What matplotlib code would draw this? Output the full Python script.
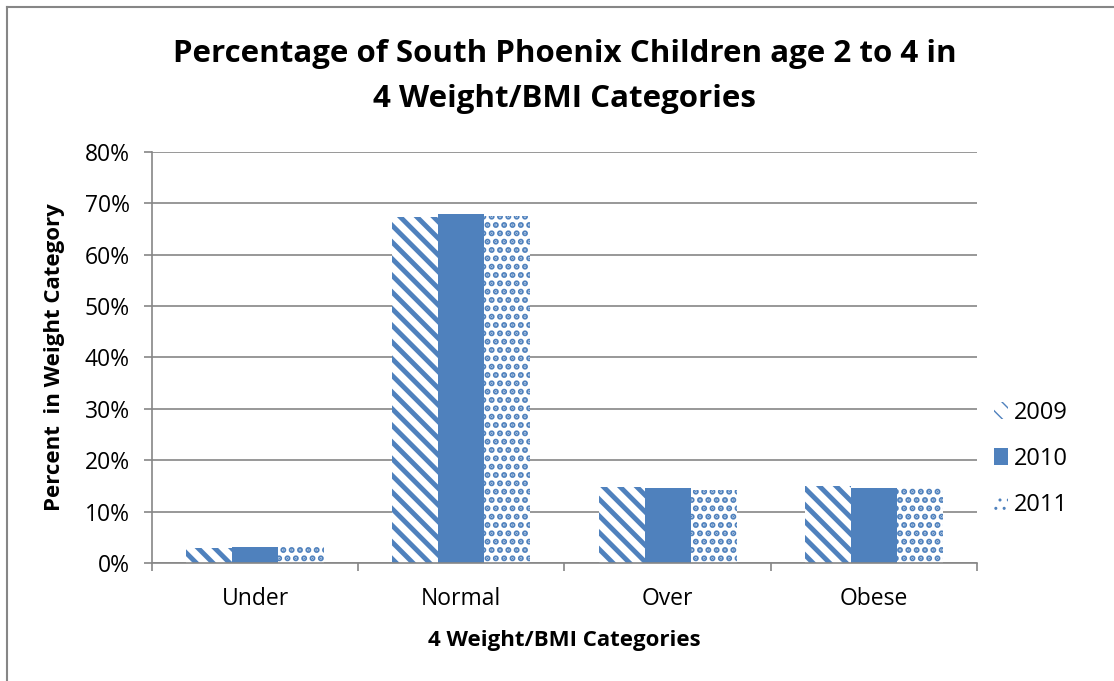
import numpy as np
import matplotlib as mpl
import matplotlib.pyplot as plt
from matplotlib.lines import Line2D

plt.rcParams['font.family'] = ['Open Sans', 'DejaVu Sans']

categorias = ["Under", "Normal", "Over", "Obese"]
anios = ["2009", "2010", "2011"]
v2009 = [3.0, 67.3, 14.8, 15.0]
v2010 = [3.1, 68.0, 14.6, 14.6]
v2011 = [3.2, 67.6, 14.3, 14.6]

azul = "#4F81BD"
gris = "#868686"

fig = plt.figure(figsize=(11.14, 6.81), dpi=100)
ax = fig.add_axes([0.1364, 0.1733, 0.7406, 0.6035])

x = np.arange(len(categorias))
ancho = 0.223

# rayas anchas para 2009
with mpl.rc_context({"hatch.linewidth": 3.5}):
    ax.bar(x - ancho, v2009, ancho, facecolor="white", edgecolor=azul,
           hatch="\\\\", linewidth=0, label=anios[0])
ax.bar(x, v2010, ancho, color=azul, label=anios[1])
# puntos para 2011
with mpl.rc_context({"hatch.linewidth": 3.0}):
    ax.bar(x + ancho, v2011, ancho, facecolor="white", edgecolor=azul,
           hatch="..", linewidth=0, label=anios[2])

ax.set_xlim(-0.5, 3.5)
ax.set_ylim(0, 80)
ax.set_yticks(range(0, 81, 10))
ax.set_yticklabels([f"{v}%" for v in range(0, 81, 10)], fontsize=16.5)
ax.yaxis.grid(True, color=gris, linewidth=1.2)
ax.set_axisbelow(True)

ax.set_xticks(x)
ax.set_xticklabels(categorias, fontsize=16.5)
ax.tick_params(axis="x", length=0, pad=17)
ax.set_xticks(np.arange(-0.5, 4, 1), minor=True)
ax.tick_params(axis="x", which="minor", length=6, color=gris, width=1.2)
ax.tick_params(axis="y", length=6, color=gris, width=1.2, pad=10)

for lado in ["top", "right"]:
    ax.spines[lado].set_visible(False)
ax.spines["left"].set_color(gris)
ax.spines["bottom"].set_color(gris)
ax.spines["left"].set_linewidth(1.2)
ax.spines["bottom"].set_linewidth(1.2)

ax.set_xlabel("4 Weight/BMI Categories", fontsize=16, fontweight="bold", labelpad=14)
ax.set_ylabel("Percent  in Weight Category", fontsize=16, fontweight="bold", labelpad=14)

# titulo en dos lineas
fig.text(0.507, 1 - 62 / 681, "Percentage of South Phoenix Children age 2 to 4 in",
         fontsize=22.5, fontweight="bold", ha="center", va="baseline")
fig.text(0.507, 1 - 107 / 681, "4 Weight/BMI Categories",
         fontsize=22.5, fontweight="bold", ha="center", va="baseline")

ax.legend(loc="center left", bbox_to_anchor=(0.995, 0.253), frameon=False,
          fontsize=17, handlelength=0.6, handleheight=0.7, labelspacing=0.95,
          handletextpad=0.25)

# marco: solo borde izquierdo y superior
borde_y = 1 - 7 / 681
borde_x = 6.5 / 1114
fig.lines.append(Line2D([borde_x, borde_x], [0, borde_y], transform=fig.transFigure,
                        color=gris, linewidth=1.5))
fig.lines.append(Line2D([borde_x, 1], [borde_y, borde_y], transform=fig.transFigure,
                        color=gris, linewidth=1.5))

plt.savefig("out.png", dpi=100)
